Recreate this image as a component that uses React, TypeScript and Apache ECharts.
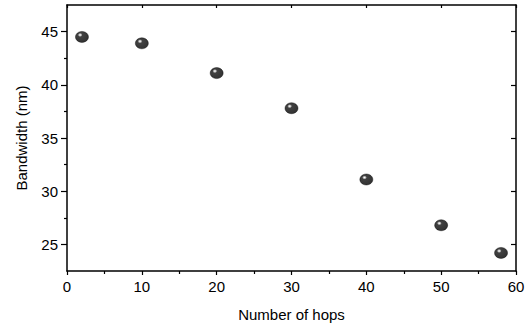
import React, { useEffect, useRef } from "react";
import * as echarts from "echarts";

const hops: number[] = [2, 10, 20, 30, 40, 50, 58];
const bandwidth: number[] = [44.5, 43.9, 41.1, 37.8, 31.1, 26.8, 24.2];
const yMajorTicks: number[] = [25, 30, 35, 40, 45];
const yMinorTicks: number[] = [27.5, 32.5, 37.5, 42.5];

const FONT = "Liberation Sans, Arial, sans-serif";

export default function App() {
  const ref = useRef<HTMLDivElement>(null);
  useEffect(() => {
    if (!ref.current) return;
    const chart = echarts.init(ref.current, null, { renderer: "svg" });
    const axisLine = { show: true, lineStyle: { color: "#000", width: 1.5 } };
    chart.setOption({
      animation: false,
      backgroundColor: "#fff",
      textStyle: { fontFamily: FONT },
      grid: { left: 67, right: 13, top: 5, bottom: 53 },
      xAxis: [
        {
          type: "value",
          position: "bottom",
          min: 0,
          max: 60,
          interval: 10,
          axisLine,
          axisTick: { show: true, inside: false, length: 4, lineStyle: { color: "#000", width: 1.2 } },
          minorTick: { show: true, splitNumber: 2, length: 3, lineStyle: { color: "#000", width: 1.2 } },
          splitLine: { show: false },
          minorSplitLine: { show: false },
          axisLabel: { color: "#000", fontSize: 15, fontFamily: FONT, margin: 8 },
          name: "Number of hops",
          nameLocation: "middle",
          nameGap: 36,
          nameTextStyle: { color: "#000", fontSize: 15, fontFamily: FONT },
        },
        {
          type: "value",
          position: "top",
          min: 0,
          max: 60,
          interval: 10,
          axisLine,
          axisTick: { show: true, inside: true, length: 3, lineStyle: { color: "#000", width: 1.2 } },
          axisLabel: { show: false },
          splitLine: { show: false },
        },
      ],
      yAxis: [
        {
          type: "value",
          position: "left",
          min: 22.5,
          max: 47.5,
          axisLine,
          axisTick: {
            show: true,
            inside: false,
            length: 6,
            customValues: yMajorTicks,
            lineStyle: { color: "#000", width: 1.2 },
          },
          axisLabel: {
            color: "#000",
            fontSize: 15,
            fontFamily: FONT,
            margin: 9,
            customValues: yMajorTicks,
          },
          splitLine: { show: false },
          name: "Bandwidth (nm)",
          nameLocation: "middle",
          nameGap: 38,
          nameRotate: 90,
          nameTextStyle: { color: "#000", fontSize: 15, fontFamily: FONT },
        },
        {
          type: "value",
          position: "left",
          min: 22.5,
          max: 47.5,
          axisLine: { show: false },
          axisTick: {
            show: true,
            inside: false,
            length: 3,
            customValues: yMinorTicks,
            lineStyle: { color: "#000", width: 1.2 },
          },
          axisLabel: { show: false },
          splitLine: { show: false },
        },
        {
          type: "value",
          position: "right",
          min: 22.5,
          max: 47.5,
          axisLine,
          axisTick: {
            show: true,
            inside: true,
            length: 5,
            customValues: yMajorTicks,
            lineStyle: { color: "#000", width: 1.2 },
          },
          axisLabel: { show: false },
          splitLine: { show: false },
        },
      ],
      series: [
        {
          type: "scatter",
          xAxisIndex: 0,
          yAxisIndex: 0,
          data: hops.map((h, i) => [h, bandwidth[i]]),
          symbol: "circle",
          symbolSize: [13, 11],
          itemStyle: {
            color: {
              type: "radial",
              x: 0.36,
              y: 0.32,
              r: 0.65,
              colorStops: [
                { offset: 0, color: "#ffffff" },
                { offset: 0.12, color: "#bbbbbb" },
                { offset: 0.28, color: "#111111" },
                { offset: 1, color: "#000000" },
              ],
            },
            borderColor: "#000",
            borderWidth: 0.5,
          },
        },
      ],
    });
    return () => chart.dispose();
  }, []);
  return (
    <div
      ref={ref}
      style={{ position: "absolute", left: 0, top: 0, width: 529, height: 327 }}
    />
  );
}
